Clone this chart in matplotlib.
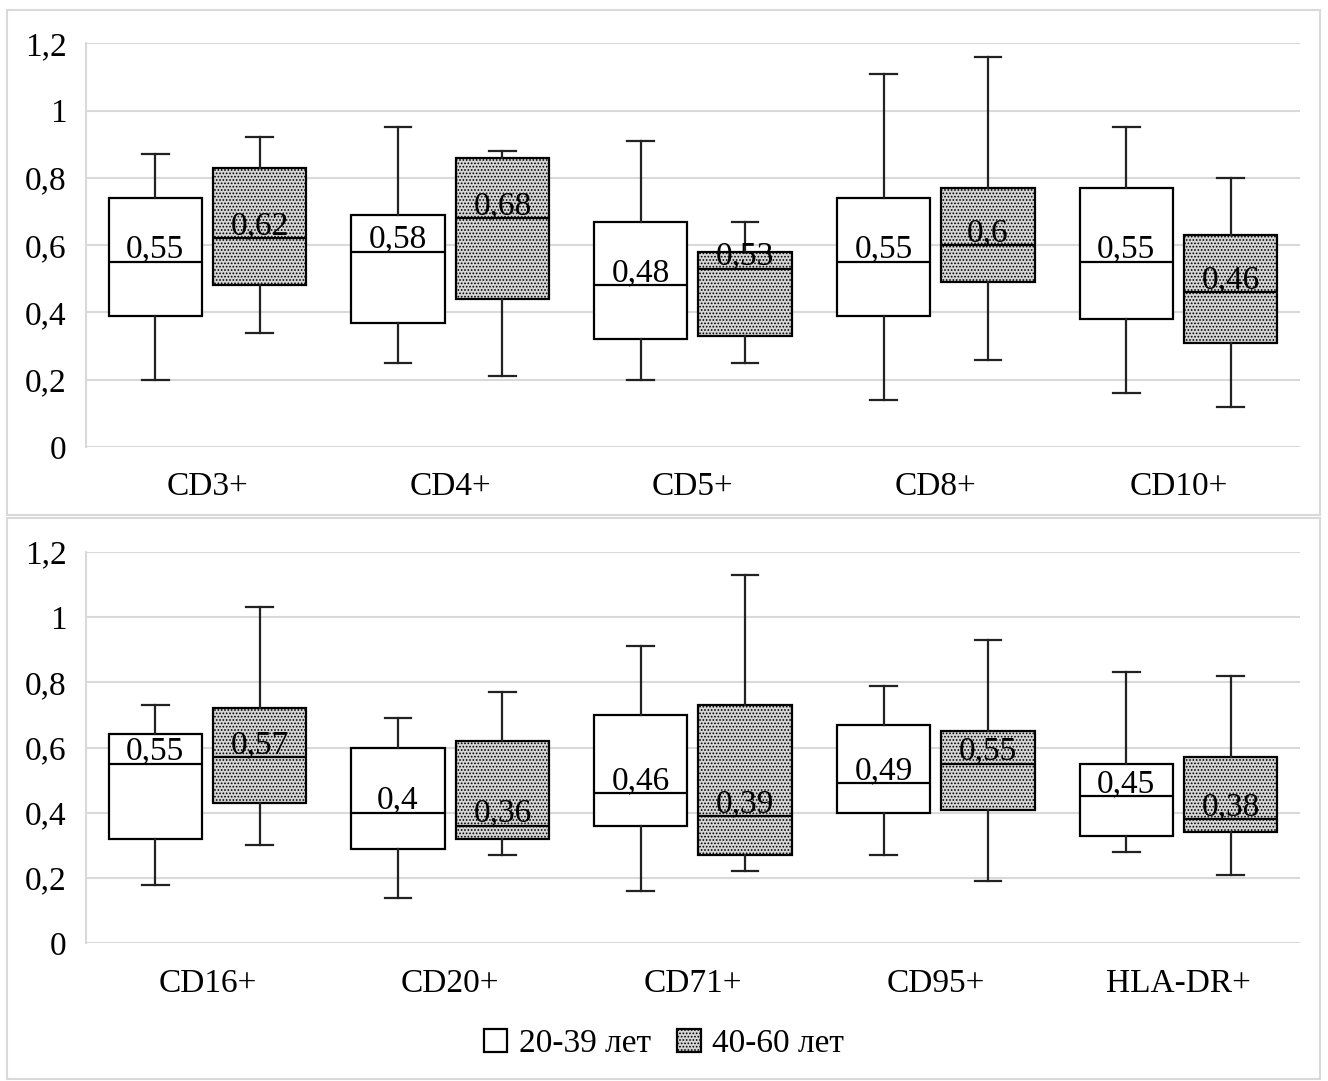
import numpy as np
import matplotlib
matplotlib.use("Agg")
import matplotlib.pyplot as plt
from matplotlib.patches import Patch, Rectangle

plt.rcParams['font.family'] = ['Liberation Serif', 'DejaVu Serif']
plt.rcParams['hatch.linewidth'] = 0.8

# box statistics: lower whisker, Q1, median, Q3, upper whisker
top_cats = ['CD3+', 'CD4+', 'CD5+', 'CD8+', 'CD10+']
top_young = [
    [0.20, 0.39, 0.55, 0.74, 0.87],
    [0.25, 0.37, 0.58, 0.69, 0.95],
    [0.20, 0.32, 0.48, 0.67, 0.91],
    [0.14, 0.39, 0.55, 0.74, 1.11],
    [0.16, 0.38, 0.55, 0.77, 0.95],
]
top_old = [
    [0.34, 0.48, 0.62, 0.83, 0.92],
    [0.21, 0.44, 0.68, 0.86, 0.88],
    [0.25, 0.33, 0.53, 0.58, 0.67],
    [0.26, 0.49, 0.60, 0.77, 1.16],
    [0.12, 0.31, 0.46, 0.63, 0.80],
]

bot_cats = ['CD16+', 'CD20+', 'CD71+', 'CD95+', 'HLA-DR+']
bot_young = [
    [0.18, 0.32, 0.55, 0.64, 0.73],
    [0.14, 0.29, 0.40, 0.60, 0.69],
    [0.16, 0.36, 0.46, 0.70, 0.91],
    [0.27, 0.40, 0.49, 0.67, 0.79],
    [0.28, 0.33, 0.45, 0.55, 0.83],
]
bot_old = [
    [0.30, 0.43, 0.57, 0.72, 1.03],
    [0.27, 0.32, 0.36, 0.62, 0.77],
    [0.22, 0.27, 0.39, 0.73, 1.13],
    [0.19, 0.41, 0.55, 0.65, 0.93],
    [0.21, 0.34, 0.38, 0.57, 0.82],
]

groups = ['20-39 лет', '40-60 лет']
yticks = [0, 0.2, 0.4, 0.6, 0.8, 1.0, 1.2]

GRID = '#d9d9d9'
FS = 24
OFF = 0.215
W = 0.385
HATCH_FACE = '#d6d6d6'
HATCH = '.....'


def to_stats(rows):
    out = []
    for lo, q1, med, q3, hi in rows:
        out.append(dict(whislo=lo, q1=q1, med=med, q3=q3, whishi=hi, fliers=[]))
    return out


def fmt(v):
    s = ('%.2f' % v).rstrip('0').rstrip('.')
    return s.replace('.', ',')


def draw_panel(ax, cats, young, old):
    x = np.arange(len(cats))
    props = dict(widths=W, capwidths=0.11, patch_artist=True, showfliers=False,
                 boxprops=dict(linewidth=1.6, edgecolor='black'),
                 whiskerprops=dict(linewidth=1.6, color='#222222'),
                 capprops=dict(linewidth=1.6, color='#222222'),
                 medianprops=dict(linewidth=1.6, color='black'))
    b1 = ax.bxp(to_stats(young), positions=x - OFF, **props)
    b2 = ax.bxp(to_stats(old), positions=x + OFF, **props)
    for p in b1['boxes']:
        p.set_facecolor('white')
    for p in b2['boxes']:
        p.set_facecolor(HATCH_FACE)
        p.set_hatch(HATCH)
    for pos, rows in ((x - OFF, young), (x + OFF, old)):
        for xi, r in zip(pos, rows):
            ax.annotate(fmt(r[2]), (xi, r[2]), xytext=(0, 3), textcoords='offset points',
                        ha='center', va='baseline', fontsize=FS, color='black', zorder=5)

    ax.set_xlim(-0.5, len(cats) - 0.5)
    ax.set_ylim(0, 1.2)
    ax.set_xticks(x)
    ax.set_xticklabels(cats, fontsize=FS)
    ax.set_yticks(yticks)
    ax.set_yticklabels([fmt(v) for v in yticks], fontsize=FS)
    ax.tick_params(axis='x', length=0, pad=18)
    ax.tick_params(axis='y', length=0, pad=14)
    ax.yaxis.grid(True, color=GRID, linewidth=1.5)
    ax.set_axisbelow(True)
    for s in ['top', 'right', 'bottom']:
        ax.spines[s].set_visible(False)
    ax.spines['left'].set_color(GRID)
    ax.spines['left'].set_linewidth(1.5)


fig = plt.figure(figsize=(13.28, 10.81), dpi=100)

# panel frames
fig.patches.append(Rectangle((0.0053, 0.5236), 0.9887, 0.4672, transform=fig.transFigure,
                             fill=False, edgecolor=GRID, linewidth=1.5))
fig.patches.append(Rectangle((0.0053, 0.0019), 0.9887, 0.519, transform=fig.transFigure,
                             fill=False, edgecolor=GRID, linewidth=1.5))

ax1 = fig.add_axes([0.0648, 0.5865, 0.914, 0.3735])
ax2 = fig.add_axes([0.0648, 0.1274, 0.914, 0.3622])
draw_panel(ax1, top_cats, top_young, top_old)
draw_panel(ax2, bot_cats, bot_young, bot_old)

handles = [Patch(facecolor='white', edgecolor='black', linewidth=1.6, label=groups[0]),
           Patch(facecolor=HATCH_FACE, edgecolor='black', linewidth=1.6, hatch=HATCH, label=groups[1])]
fig.legend(handles=handles, loc='center', bbox_to_anchor=(0.5, 0.034), ncol=2, frameon=False,
           fontsize=FS, handlelength=0.7, handleheight=0.7, handletextpad=0.35, columnspacing=0.8)

fig.savefig('out.png', dpi=100)
